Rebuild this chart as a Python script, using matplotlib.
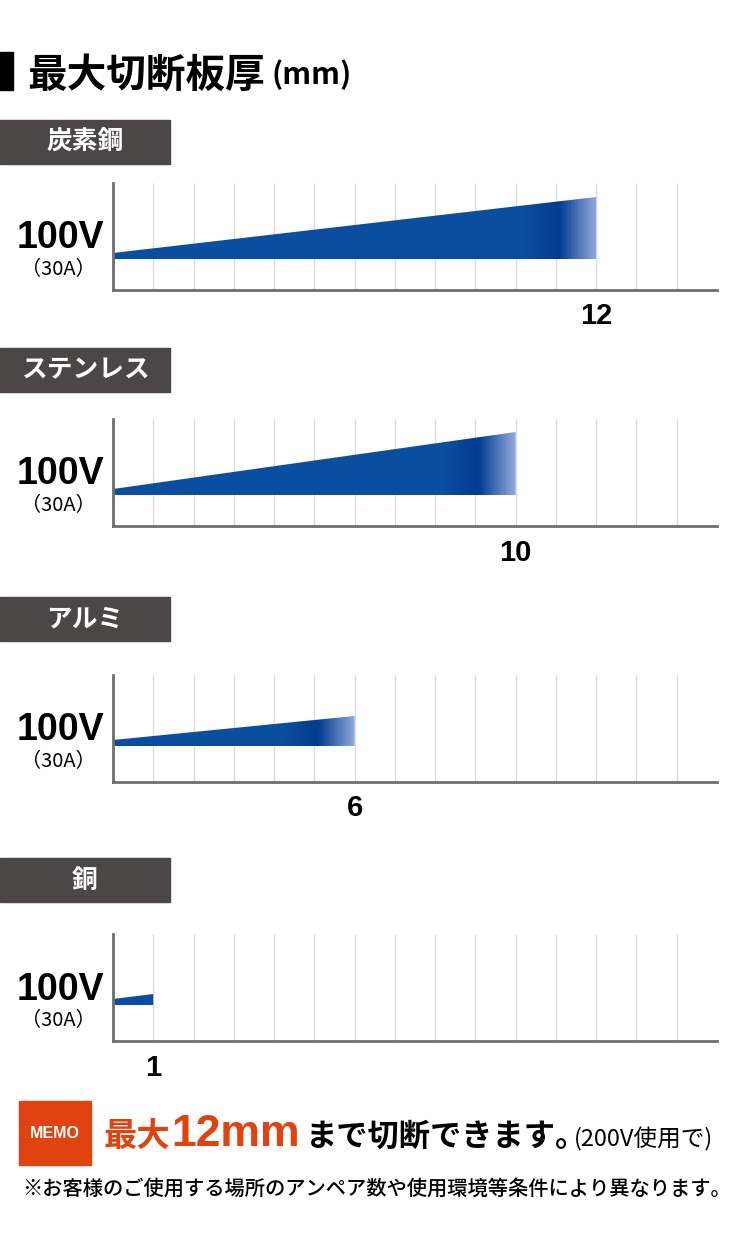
"""
最大切断板厚 chart: wedge bars per material, 100V (30A).
"""

import numpy as np
import matplotlib
matplotlib.use("Agg")
import matplotlib.pyplot as plt
from matplotlib.patches import Polygon, Rectangle
from matplotlib.colors import LinearSegmentedColormap

# ── Data ──────────────────────────────────────────────────────────────────────
materials = ["炭素鋼", "ステンレス", "アルミ", "銅"]
thickness_mm = [12, 10, 6, 1]
voltage_label = "100V"
current_label = "（30A）"
x_max = 15

title = "最大切断板厚"
title_unit = "(mm)"
memo_red = "最大"
memo_big = "12mm"
memo_rest = "まで切断できます。"
memo_note = "(200V使用で)"
footnote = "※お客様のご使用する場所のアンペア数や使用環境等条件により異なります。"

# ── Layout (pixels) ───────────────────────────────────────────────────────────
W, H = 735, 1250
AX_LEFT, AX_RIGHT = 113, 717
panel_tops = [183, 419, 675, 934]
panel_bottoms = [290, 526, 782, 1041]
label_box_tops = [120, 348, 597, 858]
bar_base_px = [31, 31, 36, 36]       # bar bottom above axis
bar_rise_px = [62, 63, 30, 11]       # bar height at its right end

CJK = ["Noto Sans CJK JP", "DejaVu Sans"]
LAT = ["Liberation Sans", "DejaVu Sans"]
BLUE = "#0b4ea0"
DARK = "#023b90"
LIGHT = "#8fa9da"
ORANGE = "#e0430f"
BOX_GRAY = "#4b4747"
SPINE = "#6e6e6e"
GRID = "#dcdcdc"

fig = plt.figure(figsize=(W / 100, H / 100), dpi=100)


def fx(px):
    return px / W


def fy(py):
    return 1 - py / H


# ── Title ─────────────────────────────────────────────────────────────────────
fig.patches.append(Rectangle((fx(0), fy(90)), fx(13), 38 / H,
                             transform=fig.transFigure, color="black"))
fig.text(fx(27), fy(87), title, family=CJK, weight="bold", fontsize=28.5,
         ha="left", va="baseline")
fig.text(fx(272), fy(84), title_unit, family=CJK, weight="bold", fontsize=21.5,
         ha="left", va="baseline")

# ── Panels ────────────────────────────────────────────────────────────────────
for i, (mat, val) in enumerate(zip(materials, thickness_mm)):
    top, bot = panel_tops[i], panel_bottoms[i]
    h = bot - top

    # material label box
    bt = label_box_tops[i]
    fig.patches.append(Rectangle((fx(0), fy(bt + 44)), fx(170), 44 / H,
                                 transform=fig.transFigure, color=BOX_GRAY))
    fig.text(fx(85), fy(bt + 22), mat, family=CJK, weight="bold", fontsize=18.5,
             color="white", ha="center", va="center")

    ax = fig.add_axes([fx(AX_LEFT), fy(bot), fx(AX_RIGHT - AX_LEFT), h / H])
    ax.set_xlim(0, x_max)
    ax.set_ylim(0, h)
    for s in ("top", "right"):
        ax.spines[s].set_visible(False)
    for s in ("left", "bottom"):
        ax.spines[s].set_color(SPINE)
        ax.spines[s].set_linewidth(2)
    ax.set_yticks([])
    ax.set_xticks([val])
    ax.set_xticklabels([str(val)], family=LAT, weight="bold", fontsize=21)
    ax.tick_params(axis="x", length=0, pad=9)
    ax.vlines(np.arange(1, x_max), 0, h, color=GRID, lw=0.9, zorder=0)

    # wedge bar with fading tip
    base = bar_base_px[i]
    poly = Polygon([(0, base), (val, base), (val, base + bar_rise_px[i]),
                    (0, base + 6)], closed=True, facecolor="none",
                   edgecolor="none")
    ax.add_patch(poly)
    xs = np.linspace(0, val, 400)
    if val >= 2:
        stops = [(0, BLUE), ((val - 1.8) / val, BLUE),
                 ((val - 0.9) / val, DARK), (1, LIGHT)]
    else:
        stops = [(0, BLUE), (1, BLUE)]
    cmap = LinearSegmentedColormap.from_list(f"fade{i}", stops)
    im = ax.imshow((xs / val)[None, :], cmap=cmap, vmin=0, vmax=1,
                   extent=[0, val, base, base + bar_rise_px[i]],
                   aspect="auto", interpolation="bilinear", zorder=2)
    im.set_clip_path(poly)

    # voltage / current labels
    fig.text(fx(60), fy(top + h / 2 + 12), voltage_label, family=LAT,
             weight="bold", fontsize=27, ha="center", va="baseline")
    fig.text(fx(58), fy(bot - 20), current_label, family=CJK, fontsize=14.5,
             ha="center", va="center")

# ── MEMO line ─────────────────────────────────────────────────────────────────
fig.patches.append(Rectangle((fx(19), fy(1165)), fx(72), 64 / H,
                             transform=fig.transFigure, color=ORANGE))
fig.text(fx(55), fy(1134), "MEMO", family=LAT, weight="bold", fontsize=11.5,
         color="white", ha="center", va="center")
fig.text(fx(104), fy(1146), memo_red, family=CJK, weight="bold", fontsize=24,
         color=ORANGE, ha="left", va="baseline")
fig.text(fx(171), fy(1146), memo_big, family=LAT, weight="bold", fontsize=32,
         color=ORANGE, ha="left", va="baseline")
fig.text(fx(306), fy(1146), memo_rest, family=CJK, weight="bold", fontsize=22.5,
         ha="left", va="baseline")
fig.text(fx(574), fy(1146), memo_note, family=CJK, fontsize=17,
         ha="left", va="baseline")

fig.text(fx(22), fy(1189), footnote, family=CJK, weight="medium", fontsize=14.6,
         ha="left", va="center")

fig.savefig("out.png", dpi=100)
